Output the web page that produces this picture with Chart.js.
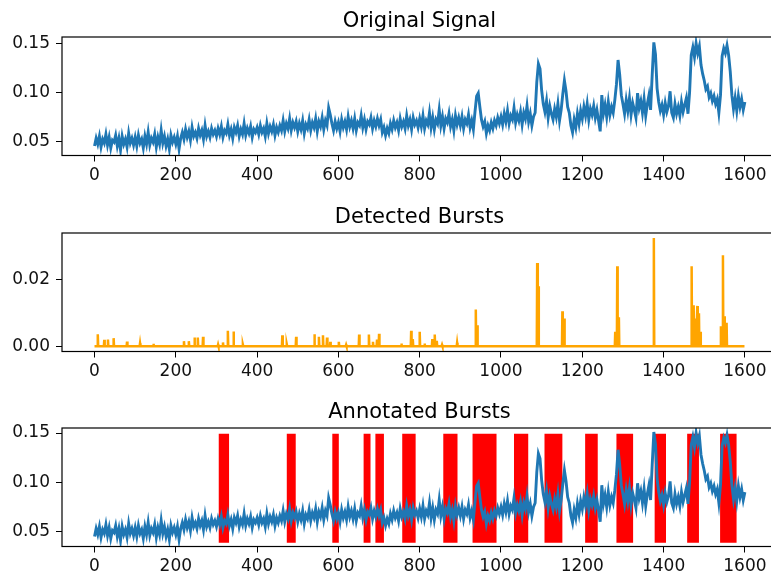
<!DOCTYPE html>
<html>
<head>
<meta charset="utf-8">
<title>Bursts</title>
<script src="https://cdn.jsdelivr.net/npm/chart.js@4.4.0/dist/chart.umd.min.js"></script>
<style>
  html, body { margin: 0; padding: 0; background: #fff; overflow: hidden; }
  #wrap { position: relative; width: 771px; height: 580px; overflow: hidden; }
  canvas { position: absolute; left: 0; }
</style>
</head>
<body>
<div id="wrap">
  <canvas id="c1" width="778" height="196" style="top:0px"></canvas>
  <canvas id="c2" width="778" height="196" style="top:196px"></canvas>
  <canvas id="c3" width="778" height="189" style="top:391px"></canvas>
</div>
<script>
// signal, one value every 4 samples (0 .. 1600)
const sampleStep = 4;
const signal = [
  0.045, 0.053, 0.047, 0.055, 0.044, 0.052, 0.048, 0.057, 0.046, 0.054, 0.043, 0.051, 0.049, 0.056, 0.045, 0.053, 0.041, 0.055, 0.047, 0.052, 0.044, 0.058, 0.048, 0.053, 0.046,
  0.054, 0.045, 0.056, 0.048, 0.052, 0.043, 0.055, 0.047, 0.059, 0.046, 0.053, 0.049, 0.057, 0.044, 0.054, 0.047, 0.061, 0.048, 0.055, 0.045, 0.052, 0.042, 0.056, 0.049, 0.054,
  0.047, 0.055, 0.042, 0.053, 0.059, 0.052, 0.062, 0.054, 0.060, 0.051, 0.064, 0.055, 0.059, 0.053, 0.063, 0.056, 0.061, 0.052, 0.066, 0.055, 0.060, 0.054, 0.063, 0.057, 0.061,
  0.055, 0.063, 0.057, 0.065, 0.054, 0.061, 0.058, 0.067, 0.056, 0.062, 0.053, 0.064, 0.059, 0.066, 0.055, 0.062, 0.057, 0.068, 0.056, 0.063, 0.058, 0.065, 0.054, 0.062, 0.059,
  0.064, 0.057, 0.066, 0.059, 0.063, 0.055, 0.068, 0.058, 0.065, 0.060, 0.067, 0.056, 0.064, 0.059, 0.066, 0.061, 0.071, 0.060, 0.068, 0.063, 0.073, 0.061, 0.069, 0.064, 0.070,
  0.060, 0.068, 0.062, 0.071, 0.058, 0.067, 0.063, 0.072, 0.061, 0.069, 0.064, 0.073, 0.060, 0.070, 0.065, 0.074, 0.062, 0.071, 0.066, 0.084, 0.077, 0.068, 0.061, 0.070, 0.063,
  0.069, 0.060, 0.072, 0.064, 0.070, 0.062, 0.075, 0.065, 0.071, 0.063, 0.073, 0.061, 0.069, 0.066, 0.076, 0.064, 0.072, 0.062, 0.070, 0.067, 0.074, 0.063, 0.071, 0.065, 0.073,
  0.066, 0.072, 0.059, 0.064, 0.056, 0.063, 0.058, 0.068, 0.062, 0.071, 0.064, 0.069, 0.061, 0.073, 0.065, 0.070, 0.063, 0.076, 0.066, 0.072, 0.062, 0.074, 0.067, 0.071, 0.064,
  0.073, 0.065, 0.076, 0.063, 0.071, 0.067, 0.079, 0.064, 0.074, 0.062, 0.072, 0.068, 0.082, 0.066, 0.075, 0.063, 0.073, 0.069, 0.078, 0.065, 0.072, 0.061, 0.076, 0.067, 0.074,
  0.066, 0.075, 0.063, 0.072, 0.068, 0.077, 0.064, 0.071, 0.062, 0.080, 0.096, 0.099, 0.085, 0.072, 0.065, 0.070, 0.058, 0.066, 0.061, 0.069, 0.063, 0.071, 0.066, 0.074, 0.068,
  0.075, 0.067, 0.078, 0.070, 0.081, 0.068, 0.076, 0.072, 0.084, 0.069, 0.077, 0.071, 0.080, 0.067, 0.079, 0.073, 0.086, 0.070, 0.078, 0.066, 0.075, 0.079, 0.110, 0.129, 0.124,
  0.102, 0.088, 0.080, 0.091, 0.074, 0.086, 0.078, 0.072, 0.083, 0.075, 0.088, 0.071, 0.082, 0.098, 0.112, 0.101, 0.085, 0.079, 0.066, 0.059, 0.072, 0.064, 0.078, 0.068, 0.081,
  0.073, 0.085, 0.076, 0.088, 0.072, 0.083, 0.077, 0.086, 0.074, 0.082, 0.071, 0.060, 0.097, 0.078, 0.087, 0.075, 0.090, 0.077, 0.085, 0.079, 0.092, 0.108, 0.133, 0.118, 0.097,
  0.088, 0.078, 0.092, 0.081, 0.094, 0.077, 0.089, 0.082, 0.074, 0.099, 0.084, 0.091, 0.079, 0.093, 0.076, 0.088, 0.097, 0.082, 0.118, 0.151, 0.139, 0.104, 0.090, 0.081, 0.087,
  0.077, 0.089, 0.080, 0.086, 0.101, 0.079, 0.074, 0.088, 0.078, 0.085, 0.076, 0.090, 0.080, 0.087, 0.094, 0.078, 0.100, 0.138, 0.146, 0.136, 0.150, 0.140, 0.147, 0.128, 0.119,
  0.112, 0.103, 0.106, 0.095, 0.099, 0.091, 0.096, 0.088, 0.093, 0.079, 0.097, 0.137, 0.145, 0.140, 0.148, 0.138, 0.121, 0.097, 0.083, 0.094, 0.081, 0.096, 0.085, 0.093, 0.082,
  0.090
];

// detected bursts: zero everywhere except these samples
const burstIdx = [8, 24, 33, 47, 80, 112, 145, 220, 232, 246, 254, 267, 304, 316, 328, 342, 365, 462, 473, 496,
  541, 552, 562, 572, 580, 601, 619, 651, 675, 685, 695, 700, 755, 779, 783, 800, 812, 831, 837, 842, 855, 892,
  938, 942, 1089, 1092, 1151, 1156, 1281, 1286, 1290, 1376, 1469, 1474, 1479, 1483, 1487, 1491, 1541, 1546, 1550, 1555];
const burstAmp = [0.0036, 0.0019, 0.0020, 0.0024, 0.0014, 0.0009, 0.0007, 0.0015, 0.0015, 0.0026, 0.0026, 0.0028, 0.0005, 0.0011, 0.0046, 0.0044, 0.0005, 0.0033, 0.0006, 0.0028,
  0.0036, 0.0028, 0.0033, 0.0026, 0.0013, 0.0013, 0.0004, 0.0035, 0.0035, 0.0013, 0.0020, 0.0037, 0.0008, 0.0046, 0.0021, 0.0043, 0.0008, 0.0021, 0.0035, 0.0016, 0.0004, 0.0010,
  0.0110, 0.0063, 0.0250, 0.0180, 0.0105, 0.0083, 0.0043, 0.0240, 0.0087, 0.0325, 0.0240, 0.0123, 0.0083, 0.0121, 0.0099, 0.0043, 0.0060, 0.0273, 0.0090, 0.0070];
const lastSample = 1599;

// annotated burst regions
const spanStart = [305, 473, 585, 662, 691, 757, 858, 930, 1032, 1107, 1207, 1284, 1378, 1458, 1539];
const spanEnd   = [331, 495, 601, 679, 712, 790, 893, 989, 1067, 1151, 1238, 1325, 1406, 1487, 1580];
const spanLow = 0.0385;
const spanHigh = 0.1493;

const xTicks = [0, 200, 400, 600, 800, 1000, 1200, 1400, 1600];
const signalTicks = [0.05, 0.10, 0.15];
const burstTicks = [0.00, 0.02];

Chart.defaults.font.family = '"DejaVu Sans", sans-serif';
Chart.defaults.color = '#111';

const signalPts = signal.map((v, i) => ({ x: i * sampleStep, y: v }));

const burstPts = [{ x: 0, y: 0 }];
burstIdx.forEach((s, i) => {
  burstPts.push({ x: s - 1, y: 0 }, { x: s, y: burstAmp[i] }, { x: s + 1, y: 0 });
});
burstPts.push({ x: lastSample, y: 0 });

const spanPts = [];
spanStart.forEach((s, i) => {
  spanPts.push({ x: s, y: spanLow }, { x: s, y: spanHigh }, { x: spanEnd[i], y: spanHigh }, { x: spanEnd[i], y: spanLow });
});

const frame = {
  id: 'frame',
  afterDatasetsDraw(chart) {
    const a = chart.chartArea, ctx = chart.ctx;
    ctx.save();
    ctx.strokeStyle = '#000';
    ctx.lineWidth = 1.2;
    ctx.strokeRect(a.left, a.top, a.right - a.left, a.bottom - a.top);
    ctx.restore();
  }
};

function makeScales(yMin, yMax, yTicks) {
  return {
    x: {
      type: 'linear', min: -80, max: 1679, bounds: 'data',
      afterBuildTicks: s => { s.ticks = xTicks.map(v => ({ value: v })); },
      afterFit: s => { s.height = 30; },
      ticks: { autoSkip: false, maxRotation: 0, padding: 4, font: { size: 17 }, callback: v => String(v) },
      grid: { drawOnChartArea: false, drawTicks: true, tickLength: 6, color: '#000' },
      border: { display: false }
    },
    y: {
      min: yMin, max: yMax, bounds: 'data',
      afterBuildTicks: s => { s.ticks = yTicks.map(v => ({ value: v })); },
      afterFit: s => { s.width = 62; },
      ticks: { autoSkip: false, padding: 6, font: { size: 17 }, callback: v => v.toFixed(2) },
      grid: { drawOnChartArea: false, drawTicks: true, tickLength: 6, color: '#000' },
      border: { display: false }
    }
  };
}

function makeChart(id, title, datasets, yMin, yMax, yTicks, padBottom) {
  return new Chart(document.getElementById(id), {
    type: 'line',
    data: { datasets: datasets },
    options: {
      responsive: false,
      animation: false,
      events: [],
      layout: { padding: { left: 0, right: 1, top: 0, bottom: padBottom } },
      elements: { point: { radius: 0 }, line: { tension: 0 } },
      plugins: {
        legend: { display: false },
        tooltip: { enabled: false },
        title: {
          display: true, text: title, fullSize: false, color: '#000',
          font: { size: 21, weight: 'normal' },
          padding: { top: 8.9, bottom: 2.9 }
        }
      },
      scales: makeScales(yMin, yMax, yTicks)
    },
    plugins: [frame]
  });
}

makeChart('c1', 'Original Signal', [
  { data: signalPts, borderColor: '#1f77b4', borderWidth: 2.9, fill: false }
], 0.0353, 0.1565, signalTicks, 10.5);

makeChart('c2', 'Detected Bursts', [
  { data: burstPts, borderColor: '#ffa500', borderWidth: 2.5, fill: false }
], -0.0016, 0.034, burstTicks, 10.5);

makeChart('c3', 'Annotated Bursts', [
  { data: signalPts, borderColor: '#1f77b4', borderWidth: 2.9, fill: false },
  { data: spanPts, borderColor: 'rgba(0,0,0,0)', borderWidth: 0, backgroundColor: '#ff0000', fill: { value: spanLow } }
], 0.0348, 0.1551, signalTicks, 3.5);
</script>
</body>
</html>
